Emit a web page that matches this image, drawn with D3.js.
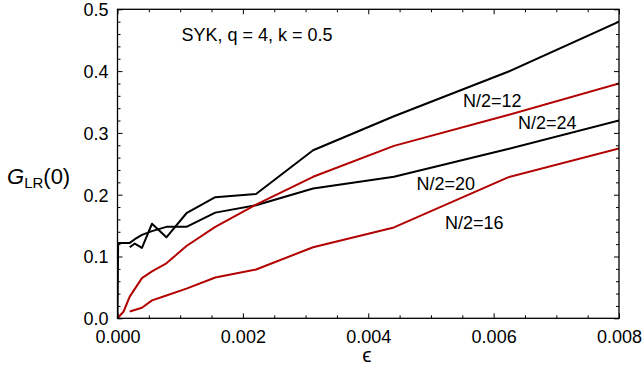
<!DOCTYPE html>
<html><head><meta charset="utf-8">
<script src="https://cdn.jsdelivr.net/npm/d3@7"></script>
<style>
body{margin:0;background:#fff;}
svg{display:block;font-family:"Liberation Sans",Arial,sans-serif;}
</style></head>
<body><svg id="c" width="642" height="374"></svg>
<script>
// ---- data ----
const eps12 = [0.000195, 0.000276, 0.00039, 0.00055, 0.00078, 0.0011, 0.00156, 0.00221, 0.00312, 0.00441, 0.00623, 0.008];
const g12   = [0.115, 0.121, 0.114, 0.153, 0.131, 0.170, 0.196, 0.201, 0.272, 0.327, 0.399, 0.480];
const eps20 = [0, 0.00001, 0.000195, 0.000276, 0.00039, 0.00055, 0.00078, 0.0011, 0.00156, 0.00221, 0.00312, 0.00441, 0.00623, 0.008];
const g20   = [0, 0.122, 0.122, 0.128, 0.135, 0.141, 0.148, 0.148, 0.171, 0.183, 0.210, 0.229, 0.274, 0.320];
const eps24 = [0, 0.0000975, 0.000195, 0.00039, 0.00055, 0.00078, 0.0011, 0.00156, 0.00221, 0.00312, 0.00441, 0.00623, 0.008];
const g24   = [0, 0.011, 0.035, 0.065, 0.076, 0.089, 0.117, 0.148, 0.184, 0.229, 0.279, 0.329, 0.380];
const eps16 = [0.000195, 0.00039, 0.00055, 0.00078, 0.0011, 0.00156, 0.00221, 0.00312, 0.00441, 0.00623, 0.008];
const g16   = [0.011, 0.017, 0.029, 0.037, 0.048, 0.066, 0.079, 0.115, 0.147, 0.228, 0.275];
const seriesNames = ["N/2=12", "N/2=20", "N/2=24", "N/2=16"];
const xTicks = [0, 0.002, 0.004, 0.006, 0.008];
const yTicks = [0, 0.1, 0.2, 0.3, 0.4, 0.5];
const title = "SYK, q = 4, k = 0.5";

// ---- layout ----
const svg = d3.select("#c");
const L = 117.5, R = 619, T = 9.3, B = 318.3;
const x = d3.scaleLinear().domain([0, 0.008]).range([L, R]);
const y = d3.scaleLinear().domain([0, 0.5]).range([B, T]);
const black = "#000", red = "#b30000";

svg.append("clipPath").attr("id","clip").append("rect")
  .attr("x", L).attr("y", T).attr("width", R-L).attr("height", B-T);

const series = [
  {eps: eps12, g: g12, color: black},
  {eps: eps20, g: g20, color: black},
  {eps: eps24, g: g24, color: red},
  {eps: eps16, g: g16, color: red}
];
const line = d3.line().x(d => x(d[0])).y(d => y(d[1]));
const gl = svg.append("g").attr("clip-path","url(#clip)");
series.forEach(s => {
  gl.append("path").datum(s.eps.map((e,i)=>[e, s.g[i]]))
    .attr("d", line).attr("fill","none").attr("stroke", s.color)
    .attr("stroke-width", 2).attr("stroke-linejoin","round");
});

// ---- axes (ticks inward on all four sides) ----
const xMinor = d3.range(0, 0.00801, 0.0005).filter(v => !xTicks.some(t => Math.abs(t-v) < 1e-9));
const yMinor = d3.range(0, 0.501, 0.02).filter(v => !yTicks.some(t => Math.abs(t-v) < 1e-9));

function axisSet(axisFn, scale, ticks, minor, transform, showLabels, fmt) {
  const gMaj = svg.append("g").attr("transform", transform)
    .call(axisFn(scale).tickValues(ticks).tickSizeInner(-5).tickSizeOuter(0)
      .tickFormat(showLabels ? fmt : ""));
  const gMin = svg.append("g").attr("transform", transform)
    .call(axisFn(scale).tickValues(minor).tickSizeInner(-3).tickSizeOuter(0).tickFormat(""));
  [gMaj, gMin].forEach(g => {
    g.select(".domain").remove();
    g.selectAll("line").attr("stroke", "#000").attr("stroke-width", 1);
    g.selectAll("text").attr("fill", "#000").style("font-size", "18px")
      .style("font-family", '"Liberation Sans",Arial,sans-serif');
  });
  return gMaj;
}
const gx = axisSet(d3.axisBottom, x, xTicks, xMinor, `translate(0,${B})`, true, d3.format(".3f"));
gx.selectAll("text").attr("y", 12).attr("dy", "0.71em");
axisSet(d3.axisTop, x, xTicks, xMinor, `translate(0,${T})`, false);
const gy = axisSet(d3.axisLeft, y, yTicks, yMinor, `translate(${L},0)`, true, d3.format(".1f"));
gy.selectAll("text").attr("x", -9).attr("dy", "0.36em");
axisSet(d3.axisRight, y, yTicks, yMinor, `translate(${R},0)`, false);

svg.append("rect").attr("x", L).attr("y", T).attr("width", R-L).attr("height", B-T)
  .attr("fill","none").attr("stroke","#000").attr("stroke-width", 1.3);

// ---- texts ----
svg.append("text").attr("x", 181.5).attr("y", 40.7).style("font-size","18px").text(title);
const labelPos = [[463,107],[416.5,190],[518,128.5],[445,229]];
seriesNames.forEach((n,i) => {
  svg.append("text").attr("x", labelPos[i][0]).attr("y", labelPos[i][1])
    .style("font-size","18px").text(n);
});
svg.append("text").attr("x", 367).attr("y", 362).attr("text-anchor","middle")
  .style("font-size","21px").text("ϵ");
const yl = svg.append("text").attr("x", 7).attr("y", 184).style("font-size","22px");
yl.append("tspan").style("font-style","italic").text("G");
yl.append("tspan").style("font-size","15px").attr("dy", 4).text("LR");
yl.append("tspan").attr("dy", -4).text("(0)");
</script></body></html>
